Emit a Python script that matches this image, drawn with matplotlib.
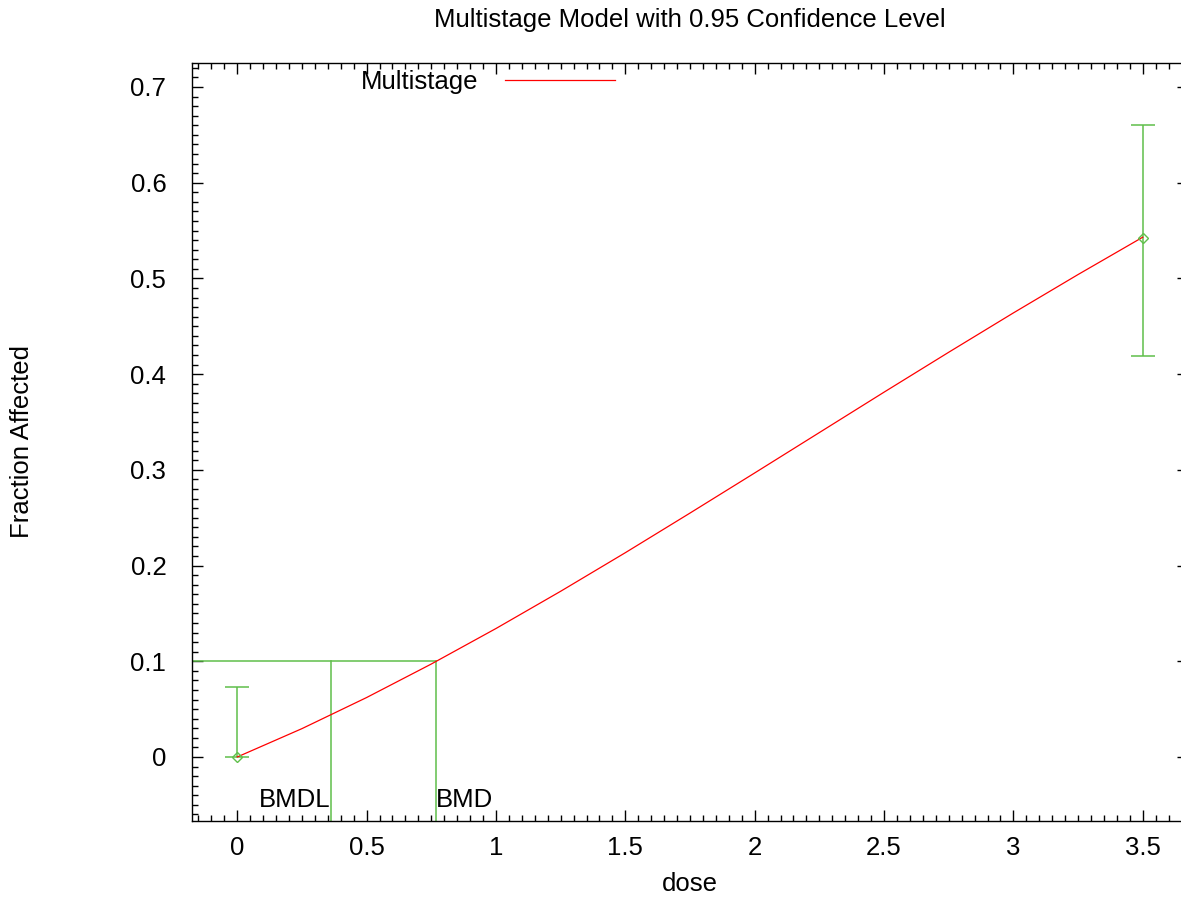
import matplotlib
matplotlib.use("Agg")
import matplotlib.pyplot as plt
from matplotlib.ticker import MultipleLocator, FuncFormatter

plt.rcParams['font.family'] = ['Liberation Sans', 'DejaVu Sans']

# Observed data
dose = [0.0, 3.5]
frac = [0.0, 0.5426]
ci_low = [0.0, 0.4193]
ci_high = [0.0728, 0.6603]

# Fitted multistage curve
curve_dose = [0.0, 0.25, 0.5, 0.75, 1.0, 1.25, 1.5, 1.75, 2.0, 2.25, 2.5, 2.75, 3.0, 3.25, 3.5]
curve_frac = [0.0, 0.0296, 0.0621, 0.0971, 0.1342, 0.1731, 0.2134, 0.2548, 0.2967,
              0.3389, 0.3811, 0.4228, 0.4639, 0.5040, 0.5430]

bmr = 0.1
bmd = 0.7695
bmdl = 0.3622

title = "Multistage Model with 0.95 Confidence Level"
green = '#5fbf4a'
red = '#ff0000'
fs = 18.5

fig = plt.figure(figsize=(11.81, 8.97), dpi=100)
ax = fig.add_axes([192/1181, 1-821/897, (1188-192)/1181, (821-63)/897])

xmin, xmax = -0.175, 3.675
ymin, ymax = -0.0669, 0.725
ax.set_xlim(xmin, xmax)
ax.set_ylim(ymin, ymax)

# Curve
ax.plot(curve_dose, curve_frac, color=red, lw=0.9, label='Multistage', zorder=3)

# Error bars
yerr = [[f - l for f, l in zip(frac, ci_low)], [h - f for f, h in zip(frac, ci_high)]]
ax.errorbar(dose, frac, yerr=yerr, fmt='none', ecolor=green, elinewidth=1.1,
            capsize=8.6, capthick=1.1, zorder=2)
ax.plot(dose, frac, linestyle='none', marker='D', markersize=5.5,
        markerfacecolor='none', markeredgecolor=green, markeredgewidth=1.0, zorder=4)

# BMD / BMDL lines
ax.plot([xmin, bmd], [bmr, bmr], color=green, lw=1.1, zorder=2)
ax.plot([bmdl, bmdl], [ymin, bmr], color=green, lw=1.1, zorder=2)
ax.plot([bmd, bmd], [ymin, bmr], color=green, lw=1.1, zorder=2)
ax.text(bmdl, -0.0449, 'BMDL', ha='right', va='center', fontsize=fs)
ax.text(bmd, -0.0449, 'BMD', ha='left', va='center', fontsize=fs)

# Ticks
ax.xaxis.set_major_locator(MultipleLocator(0.5))
ax.xaxis.set_minor_locator(MultipleLocator(0.05))
ax.yaxis.set_major_locator(MultipleLocator(0.1))
ax.yaxis.set_minor_locator(MultipleLocator(0.01))
ax.tick_params(which='both', direction='in', top=True, right=True, labelsize=fs, width=1.0)
ax.tick_params(which='major', length=8)
ax.tick_params(which='minor', length=4)
ax.tick_params(axis='x', which='major', pad=11)
ax.tick_params(axis='y', which='major', pad=18.5)
fmt = FuncFormatter(lambda v, p: '%g' % round(v, 3))
ax.xaxis.set_major_formatter(fmt)
ax.yaxis.set_major_formatter(fmt)
for sp in ax.spines.values():
    sp.set_linewidth(1.0)

ax.set_xlabel('dose', fontsize=fs)
ax.xaxis.set_label_coords((690 - 192) / (1188 - 192), (821 - 884) / (821 - 63))
ax.xaxis.label.set_va('center')
ax.set_ylabel('Fraction Affected', fontsize=fs)
ax.yaxis.set_label_coords((22 - 192) / (1188 - 192), (821 - 442) / (821 - 63))
ax.yaxis.label.set_va('center')
fig.text(690/1181, 1-20/897, title, ha='center', va='center', fontsize=fs)

leg = ax.legend(loc='center right', frameon=False, markerfirst=False, fontsize=fs,
                handlelength=4.3, handletextpad=1.0, borderaxespad=0, borderpad=0)
leg.set_bbox_to_anchor(((615 - 192) / (1188 - 192), (821 - 82) / (821 - 63)), transform=ax.transAxes)

fig.savefig('out.png', dpi=100)
